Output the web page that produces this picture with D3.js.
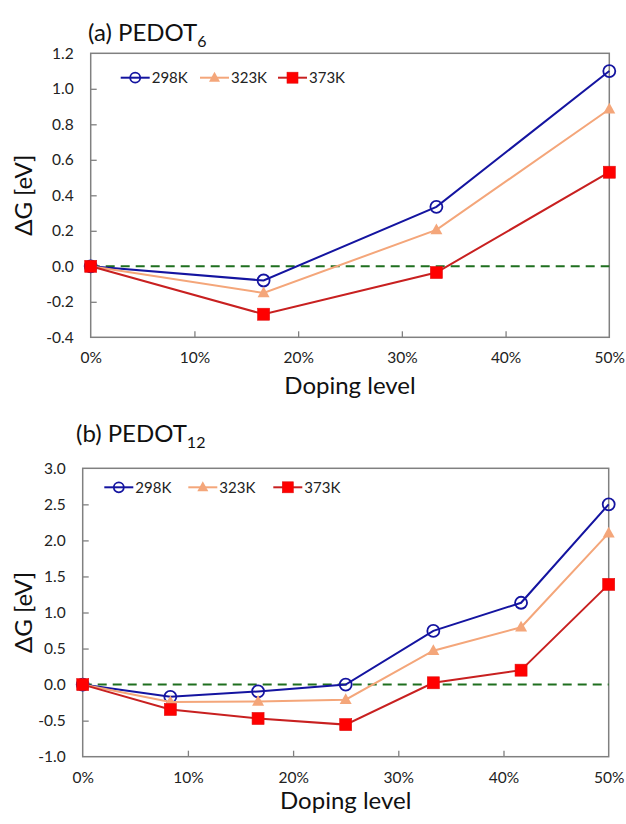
<!DOCTYPE html>
<html>
<head>
<meta charset="utf-8">
<script src="https://cdnjs.cloudflare.com/ajax/libs/d3/7.8.5/d3.min.js"></script>
<style>
  body { margin: 0; background: #fff; }
  svg { font-family: Lato, "Open Sans", sans-serif; }
</style>
</head>
<body>
<svg width="626" height="824"></svg>
<script>
// series names and colours
var seriesNames = ["298K", "323K", "373K"];
var xTicks = [0, 0.1, 0.2, 0.3, 0.4, 0.5];

// (a) PEDOT6
var dopingA = [0, 0.1667, 0.3333, 0.5];
var dG298A = [0, -0.08, 0.335, 1.10];
var dG323A = [0, -0.15, 0.205, 0.885];
var dG373A = [0, -0.27, -0.035, 0.53];
var yTicksA = [-0.4, -0.2, 0.0, 0.2, 0.4, 0.6, 0.8, 1.0, 1.2];

// (b) PEDOT12
var dopingB = [0, 0.0833, 0.1667, 0.25, 0.3333, 0.4167, 0.5];
var dG298B = [0, -0.17, -0.095, 0.0, 0.745, 1.135, 2.50];
var dG323B = [0, -0.24, -0.235, -0.21, 0.47, 0.795, 2.10];
var dG373B = [0, -0.345, -0.47, -0.555, 0.025, 0.20, 1.39];
var yTicksB = [-1.0, -0.5, 0.0, 0.5, 1.0, 1.5, 2.0, 2.5, 3.0];

var lineColors = ["#1414a0", "#f4a67a", "#c82020"];
var markerFill = ["#fff", "#f4a67a", "#ff0000"];
var markerType = ["circle", "triangle", "square"];

var svg = d3.select("svg");

function drawMarker(g, type, x, y, i, size) {
    if (type == "circle") {
        g.append("circle").attr("cx", x).attr("cy", y).attr("r", size / 2)
            .style("fill", "none").style("stroke", lineColors[i]).style("stroke-width", 1.8);
    } else if (type == "square") {
        g.append("rect").attr("x", x - size / 2).attr("y", y - size / 2)
            .attr("width", size).attr("height", size)
            .style("fill", markerFill[i]).style("stroke", "#e01010").style("stroke-width", 0.6);
    } else {
        var h = size * 0.9;
        g.append("path")
            .attr("d", "M" + x + "," + (y - h * 0.6) + "L" + (x + size / 2) + "," + (y + h * 0.4) +
                "L" + (x - size / 2) + "," + (y + h * 0.4) + "Z")
            .style("fill", markerFill[i]);
    }
}

function drawPanel(p) {
    var g = svg.append("g");
    var x = d3.scaleLinear().domain([0, 0.5]).range([p.left, p.right]);
    var y = d3.scaleLinear().domain([p.yTicks[0], p.yTicks[p.yTicks.length - 1]]).range([p.bottom, p.top]);

    // frame
    g.append("rect").attr("x", p.left).attr("y", p.top)
        .attr("width", p.right - p.left).attr("height", p.bottom - p.top)
        .style("fill", "none").style("stroke", "#808080").style("stroke-width", 1.5);

    var xAxis = g.append("g").attr("transform", "translate(0," + p.bottom + ")")
        .call(d3.axisBottom(x).tickValues(xTicks).tickSize(-6).tickPadding(15).tickFormat(d3.format(".0%")));
    var yAxis = g.append("g").attr("transform", "translate(" + p.left + ",0)")
        .call(d3.axisLeft(y).tickValues(p.yTicks).tickSize(-6).tickPadding(17)
            .tickFormat(function (d) { return d.toFixed(1); }));
    [xAxis, yAxis].forEach(function (a) {
        a.select(".domain").remove();
        a.selectAll(".tick line").style("stroke", "#808080").style("stroke-width", 1.3);
        a.selectAll(".tick text").style("font-size", "15.5px").style("fill", "#222")
            .style("font-family", "Lato, sans-serif");
    });
    xAxis.selectAll(".tick line").filter(function (d) { return d == 0 || d == 0.5; }).remove();
    yAxis.selectAll(".tick line").filter(function (d, i) { return i == 0 || i == p.yTicks.length - 1; }).remove();

    // zero reference line
    g.append("line").attr("x1", p.left).attr("x2", p.right)
        .attr("y1", y(0)).attr("y2", y(0))
        .style("stroke", "#1f6f1f").style("stroke-width", 2).style("stroke-dasharray", "9,6");

    var line = d3.line().x(function (d) { return x(d[0]); }).y(function (d) { return y(d[1]); });
    p.series.forEach(function (vals, i) {
        var pts = p.doping.map(function (d, j) { return [d, vals[j]]; });
        g.append("path").datum(pts).attr("d", line)
            .style("fill", "none").style("stroke", lineColors[i]).style("stroke-width", 2);
        pts.forEach(function (pt) {
            drawMarker(g, markerType[i], x(pt[0]), y(pt[1]), i, 12);
        });
    });

    // legend
    p.legendX.forEach(function (lx, i) {
        g.append("line").attr("x1", lx).attr("x2", lx + 29)
            .attr("y1", p.legendY).attr("y2", p.legendY)
            .style("stroke", lineColors[i]).style("stroke-width", 2);
        drawMarker(g, markerType[i], lx + 14.5, p.legendY, i, i == 0 ? 10 : 11);
        g.append("text").attr("x", lx + 31).attr("y", p.legendY).attr("dy", "0.36em")
            .style("font-size", "15px").style("fill", "#222").text(seriesNames[i]);
    });

    // title with subscript
    var t = g.append("text").attr("x", p.titleX).attr("y", p.titleY)
        .style("font-size", "24px").style("fill", "#111");
    t.append("tspan").text(p.title);
    t.append("tspan").attr("dy", 6).style("font-size", "16px").text(p.sub);

    g.append("text").attr("x", (p.left + p.right) / 2).attr("y", p.xLabelY)
        .attr("text-anchor", "middle").style("font-size", "24px").style("fill", "#111")
        .text("Doping level");
    g.append("text")
        .attr("transform", "translate(32," + (p.top + p.bottom) / 2 + ") rotate(-90)")
        .attr("text-anchor", "middle").style("font-size", "24px").style("fill", "#111")
        .text("ΔG [eV]");
}

drawPanel({
    left: 90.7, right: 609.3, top: 53.3, bottom: 337.3,
    doping: dopingA, series: [dG298A, dG323A, dG373A], yTicks: yTicksA,
    legendX: [120.7, 200, 278], legendY: 77.7,
    title: "(a) PEDOT", sub: "6", titleX: 88, titleY: 41,
    xLabelY: 394
});

drawPanel({
    left: 82.7, right: 608.7, top: 468.3, bottom: 756.7,
    doping: dopingB, series: [dG298B, dG323B, dG373B], yTicks: yTicksB,
    legendX: [104.3, 188.3, 273.3], legendY: 487.3,
    title: "(b) PEDOT", sub: "12", titleX: 76, titleY: 442,
    xLabelY: 809
});
</script>
</body>
</html>
